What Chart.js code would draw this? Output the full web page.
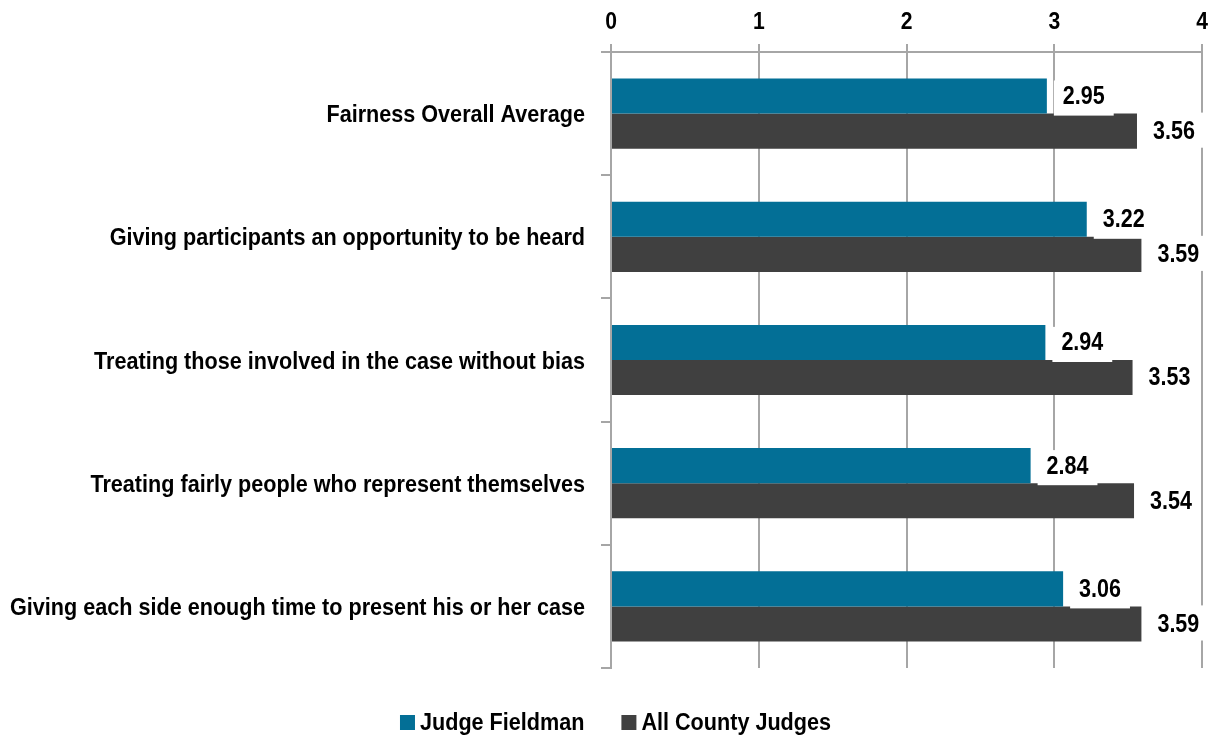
<!DOCTYPE html>
<html>
<head>
<meta charset="utf-8">
<script src="https://cdn.jsdelivr.net/npm/chart.js@4"></script>
<style>
  html, body { margin: 0; padding: 0; background: #ffffff; }
  #wrap { width: 1211px; height: 738px; position: relative; }
</style>
</head>
<body>
<div id="wrap"><canvas id="c" width="1211" height="738"></canvas></div>
<script>
const categories = [
  "Fairness Overall Average",
  "Giving participants an opportunity to be heard",
  "Treating those involved in the case without bias",
  "Treating fairly people who represent themselves",
  "Giving each side enough time to present his or her case"
];
const judgeFieldman = [2.95, 3.22, 2.94, 2.84, 3.06];
const allCountyJudges = [3.56, 3.59, 3.53, 3.54, 3.59];
const tickValues = [0, 1, 2, 3, 4];
const seriesNames = ['Judge Fieldman', 'All County Judges'];
const seriesColors = ['#036f96', '#404040'];

const FONT = "'Liberation Sans', Arial, sans-serif";
const GRID = '#a6a6a6';

function narrowText(ctx, txt, x, y, align, size, sx) {
  ctx.save();
  ctx.font = 'bold ' + size + 'px ' + FONT;
  ctx.textAlign = align;
  ctx.translate(x, y);
  ctx.scale(sx, 1);
  ctx.fillText(txt, 0, 0);
  ctx.restore();
}
function narrowWidth(ctx, txt, size, sx) {
  ctx.save();
  ctx.font = 'bold ' + size + 'px ' + FONT;
  const w = ctx.measureText(txt).width * sx;
  ctx.restore();
  return w;
}

const textPlugin = {
  id: 'narrowTexts',
  afterDatasetsDraw(chart) {
    const ctx = chart.ctx;
    ctx.save();
    ctx.fillStyle = '#000';
    ctx.textBaseline = 'middle';
    // value labels
    chart.data.datasets.forEach((ds, di) => {
      const meta = chart.getDatasetMeta(di);
      meta.data.forEach((bar, i) => {
        const txt = ds.data[i].toFixed(2);
        const w = narrowWidth(ctx, txt, 25, 0.86) + 18;
        const h = bar.height;
        const shift = di === 0 ? 2 : -1;
        const x0 = bar.x + 7;
        const y0 = bar.y - h / 2 + shift;
        ctx.fillStyle = '#ffffff';
        ctx.fillRect(x0, y0, w, h);
        ctx.fillStyle = '#000000';
        narrowText(ctx, txt, x0 + w / 2, bar.y + 1, 'center', 25, 0.86);
      });
    });
    // y category labels
    const ys = chart.scales.y;
    const yRight = ys.right - 10 - 16;
    categories.forEach((c, i) => {
      narrowText(ctx, c, yRight, ys.getPixelForTick(i) + 2, 'right', 24, 0.90);
    });
    // x tick labels
    const xs = chart.scales.x;
    ctx.textBaseline = 'alphabetic';
    tickValues.forEach(v => {
      narrowText(ctx, String(v), xs.getPixelForValue(v), xs.bottom - 23, 'center', 24, 0.88);
    });
    // legend
    ctx.textBaseline = 'middle';
    const box = 15, gapBox = 5, gapItem = 37, ly = 722.5;
    const widths = seriesNames.map(n => narrowWidth(ctx, n, 24, 0.90));
    const total = widths.reduce((a, w) => a + box + gapBox + w, 0) + gapItem * (seriesNames.length - 1);
    let lx = chart.width / 2 + 10 - total / 2;
    seriesNames.forEach((n, i) => {
      ctx.fillStyle = seriesColors[i];
      ctx.fillRect(lx, ly - box / 2, box, box);
      ctx.fillStyle = '#000';
      narrowText(ctx, n, lx + box + gapBox, ly + 1, 'left', 24, 0.90);
      lx += box + gapBox + widths[i] + gapItem;
    });
    ctx.restore();
  }
};

new Chart(document.getElementById('c'), {
  type: 'bar',
  data: {
    labels: categories,
    datasets: [
      { label: seriesNames[0], data: judgeFieldman, backgroundColor: seriesColors[0],
        categoryPercentage: 0.57, barPercentage: 1.0 },
      { label: seriesNames[1], data: allCountyJudges, backgroundColor: seriesColors[1],
        categoryPercentage: 0.57, barPercentage: 1.0 }
    ]
  },
  options: {
    indexAxis: 'y',
    responsive: false,
    animation: false,
    devicePixelRatio: 1,
    layout: { padding: { left: 0, right: 9, top: 0, bottom: 70 } },
    scales: {
      x: {
        position: 'top',
        min: 0, max: 4,
        afterBuildTicks(scale) { scale.ticks = tickValues.map(v => ({ value: v })); },
        afterFit(scale) { scale.height = 52; },
        ticks: { color: 'rgba(0,0,0,0)', font: { family: FONT, size: 12, weight: 'bold' }, padding: 2 },
        grid: { color: GRID, lineWidth: 2, tickLength: 8, drawTicks: true },
        border: { color: GRID, width: 2 }
      },
      y: {
        afterFit(scale) { scale.width = 611; },
        ticks: { color: 'rgba(0,0,0,0)', font: { family: FONT, size: 12, weight: 'bold' }, padding: 16 },
        grid: { color: GRID, lineWidth: 2, tickLength: 10, drawOnChartArea: false, drawTicks: true, offset: true },
        border: { color: GRID, width: 2 }
      }
    },
    plugins: {
      legend: { display: false },
      tooltip: { enabled: false }
    }
  },
  plugins: [textPlugin]
});
</script>
</body>
</html>
